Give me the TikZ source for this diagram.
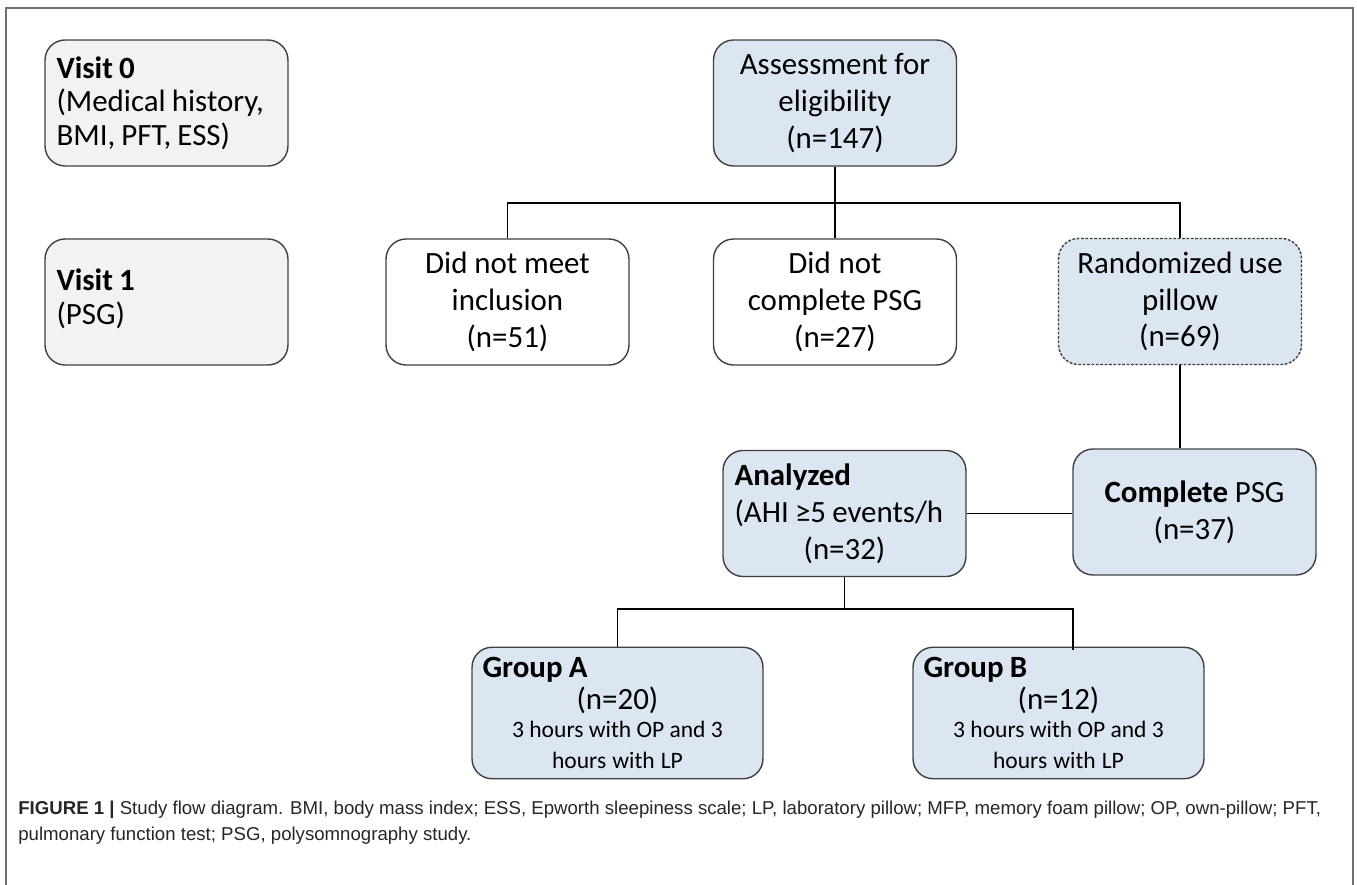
\documentclass[tikz,border=0pt]{standalone}
\usepackage{fontspec}
\setmainfont{Carlito}
\newfontfamily\capfont{Liberation Sans}

\definecolor{boxblue}{HTML}{DCE6F2}
\definecolor{visitgrey}{HTML}{F2F2F2}
\definecolor{boxline}{HTML}{404040}
\definecolor{framegrey}{HTML}{707070}

\newcommand{\tightspace}{\spaceskip=0.2em plus 0.05em minus 0.05em\relax}
\newcommand{\smalltxt}{\fontsize{13.4}{17}\selectfont\tightspace}

\begin{document}
\begin{tikzpicture}[x=0.02cm, y=-0.02cm,
        box/.style={draw=boxline, line width=0.8pt, rounded corners=0.4cm,
            minimum width=4.86cm, minimum height=2.52cm, inner sep=0.2cm,
            text width=4.4cm, align=center, font=\fontsize{17.6}{21}\selectfont,
            execute at begin node=\tightspace},
        visitbox/.style={box, fill=visitgrey, align=left, font=\fontsize{17.6}{19}\selectfont},
        bluebox/.style={box, fill=boxblue},
        groupbox/.style={bluebox, minimum width=5.82cm, text width=5.4cm,
            font=\fontsize{17.6}{17.6}\selectfont},
        link/.style={draw=black, line width=0.7pt}]

    \useasboundingbox (0,0) rectangle (1357,885);
    \draw[framegrey, line width=0.6pt] (6,885) -- (6,8) -- (1353,8) -- (1353,885);

    % visits
    \node[visitbox] (visit0) at (166.5,103) {\textbf{Visit 0}\\(Medical history,\\BMI, PFT, ESS)};
    \node[visitbox] (visit1) at (166.5,302) {\textbf{Visit 1}\\(PSG)\\[-13pt]\mbox{}};

    % flow
    \node[bluebox] (assess) at (835,103) {Assessment for\\eligibility\\(n=147)};
    \node[box, fill=white] (nomeet) at (507.5,302) {Did not meet\\inclusion\\(n=51)};
    \node[box, fill=white] (nocomp) at (835,302) {Did not\\complete PSG\\(n=27)};
    \node[bluebox, dash pattern=on 1.6pt off 0.9pt] (random) at (1180,301.5) {Randomized use\\pillow\\(n=69)};
    \node[bluebox] (complete) at (1194.5,512) {\textbf{Complete} PSG\\(n=37)};
    \node[bluebox, align=left, inner sep=0.18cm] (analyzed) at (844.5,513.5)
        {\textbf{Analyzed}\\(AHI ≥5 events/h\\\makebox[\linewidth]{(n=32)}};
    \node[groupbox] (groupA) at (617.5,713)
        {\makebox[\linewidth][l]{\textbf{Group A}}\\[0.5pt](n=20)\\[-1.5pt]{\smalltxt 3 hours with OP and 3}\\{\smalltxt hours with LP}};
    \node[groupbox] (groupB) at (1058.5,713)
        {\makebox[\linewidth][l]{\textbf{Group B}}\\[0.5pt](n=12)\\[-1.5pt]{\smalltxt 3 hours with OP and 3}\\{\smalltxt hours with LP}};

    \coordinate (split1) at (835,203);
    \coordinate (split2) at (844.5,609);
    \draw[link] (assess) -- (split1);
    \draw[link] (split1) -- (nocomp);
    \draw[link] (split1) -| (nomeet.north);
    \draw[link] (split1) -| (random.north);
    \draw[link] (random.south) -- (random.south |- complete.north);
    \draw[link] (analyzed.east) -- (complete.west |- analyzed.east);
    \draw[link] (analyzed) -- (split2);
    \draw[link] (split2) -| (groupA.north);
    \draw[link] (split2) -| (1073,650);

    % caption
    \node[anchor=north west, inner sep=0pt, align=left, text=black!85,
        font=\capfont\fontsize{10.6}{14.7}\selectfont] (caption) at (18,801)
        {\textbf{FIGURE 1 |} Study flow diagram. BMI, body mass index; ESS, Epworth sleepiness scale; LP, laboratory pillow; MFP, memory foam pillow; OP, own-pillow; PFT,\\pulmonary function test; PSG, polysomnography study.};
\end{tikzpicture}
\end{document}
